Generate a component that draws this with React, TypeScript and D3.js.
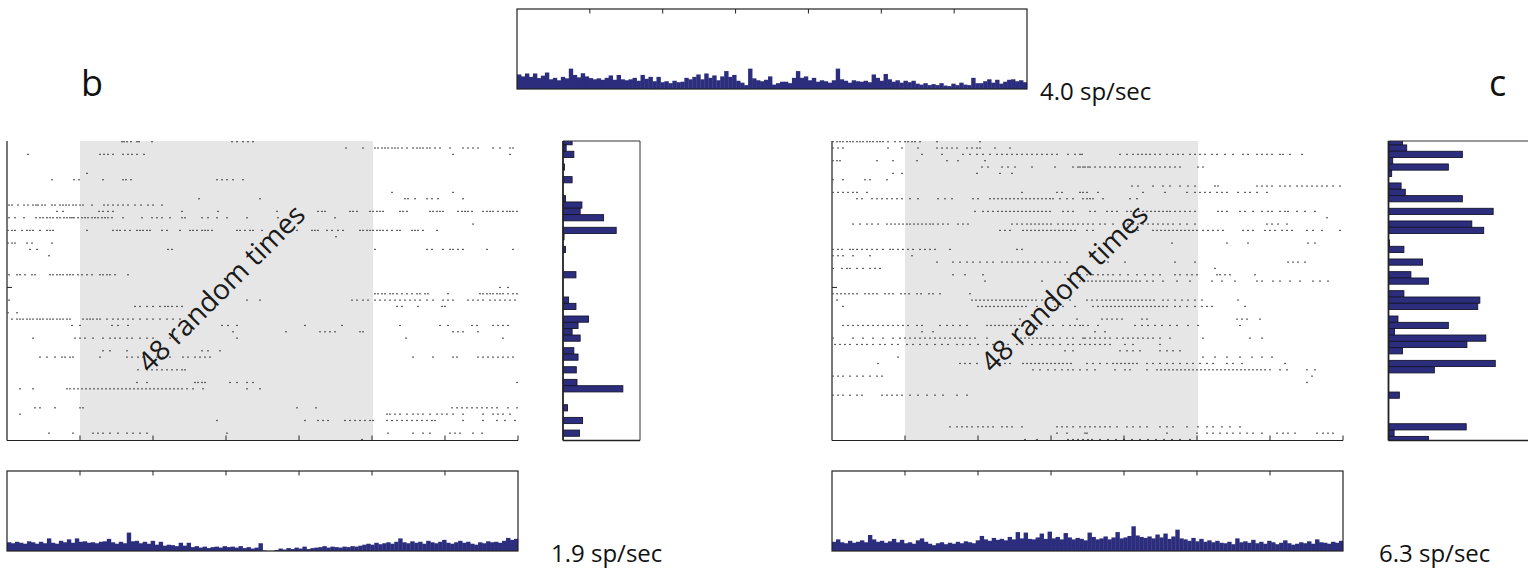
import React from "react";
import * as d3 from "d3";

// ---------- DATA ----------
// Raster spike times (time units 0..511, 7 intervals of 73) per trial row (48 trials)
const RASTER_B: number[][] = [
  [115,117,120,124,130,132,145,225,230,236,241,246],
  [339,356,368,371,375,378,381,385,388,391,395,400,406,410,413,416,420,423,428,433,443,456,461,466,471,486,493,503,506],
  [21,93,97,101,106,116,121,125,130,137,446,503],
  [],
  [],
  [80],
  [45,67,72,96,116,119,124,210,215,220,226,236],
  [],
  [385,446],
  [192,253,398,401,408,420,425,431,456],
  [2,5,11,17,21,26,29,31,35,38,45,48,53,56,59,62,66,69,73,76,85,97,101,106,111,116,121,128,134,141,146,155],
  [50,56,92,96,101,106,175,211,270,311,315,318,343,346,350,363,366,370,373,376,393,396,400,423,426,430,433,436,451,455,458,461,465,476,480,483,486,491,496,500,503,506,510],
  [2,8,17,29,33,36,40,43,46,50,53,57,60,63,65,67,71,75,78,81,85,88,91,95,98,101,105,116,135,145,150,155,163,175,178,195,201,210,220,240,271,328],
  [466],
  [1,5,8,15,20,23,26,33,40,43,46,80,106,110,113,118,123,130,133,136,140,143,155,160,173,183,186,190,195,198,201,205,230,233,238,243,246,255,290,305,308,311,320,325,331,336,353,356,360,363,366,370,373,376,380,385,390,393,405,408,411,416,430],
  [329],
  [1,5,8,20,25,45],
  [23,30,161,165,368,420,425,436,443,446,451,456,480,506],
  [42],
  [],
  [],
  [2,10,13,18,25,28,43,46,50,53,56,60,63,66,71,75,80,85,93,96,100,103,108,121],
  [],
  [493,501],
  [368,371,375,378,383,386,390,395,400,405,410,413,418,421,441,473,476,480,483,486,490,493,496,501,506,510],
  [2,240,253,345,350,356,361,368,373,378,383,388,393,398,403,408,413,420,426,436,441,446,461,466,471,476,483,488,493,498,503,508],
  [128,133,140,146,153,158,161,165,170,175,390,395,411,435,438],
  [1,10],
  [5,10,13,16,20,23,26,30,33,36,40,43,46,50,53,56,60,63,76,80,83,86,90,93,100,106,111,116,121,126,133,140,146,153,160,166,173],
  [65,73,105,111,121,215,221,230,298,335,393,433,441,465,470,486,491,496,501],
  [226,279,313,318,323,328,353,356,446,451,456,471],
  [26,68,73,78,86,96,103,108,113,120,125,133,140,146,163,170,230,399,496],
  [],
  [96,103,120,195,201,213],
  [33,40,48,55,58,63,66,93,120,125,131,136,141,150,156,163,176,181,188,193,198,203,406,426,446,450,471,476,481,486,491,496,501,506],
  [],
  [131,140,145,150,155,160,165,170,175,178],
  [],
  [130,140,188,191,195,198,223,230,240,246,510],
  [13,26,60,63,67,71,75,79,83,87,91,95,99,103,107,111,115,119,123,127,131,135,139,143,147,151,155,159,163,167,171,175,180,186,196,240,253],
  [],
  [],
  [28,33,48,73,76,290,309,445,450,455,460,465,470,475,480,485,490,501,510],
  [13,380,383,388,393,400,406,411,416,423,430,435,440,446,456,476,486,491,496,503],
  [210,298,311,316,321,338,343,348,353,358,363,366,380,385,390,395,400,405,410,415,420,425,428,456,476,490,498,508],
  [],
  [42,66,86,91,96,103,111,120,126,133,140,220,381,406,416,423,443,448,453,466,475],
  [355],
];

const RASTER_C: number[][] = [
  [1,5,8,11,15,18,21,25,28,31,35,38,41,45,48,51,56,63,68,73,76,80,83,88,105,148],
  [1,6,11,56,70,86,105,110,115,120,125,135,140,145,148,163,178],
  [90,110,131,138,145,151,158,165,170,175,180,185,190,195,200,205,210,215,220,225,236,243,248,250,288,295,301,306,310,314,318,323,328,335,341,346,351,358,363,368,373,380,385,393,401,411,416,425,430,435,440,448,451,458,470],
  [1,5,8,45,61,85,115,126,153],
  [150,156,170,176,183,200,223,241,246,248,251,253,256,258,263,268,273,278,283,288,293,298,303,308,313,318,323,328,333,338,343,348,366,371],
  [61,70,145,168,180],
  [1,11,33,38,55],
  [300,306,321,331,338,348,356,363,383,386,425,430,435,440,448,453,458,465,470,475,480,485,490,495,501,508],
  [1,6,11,16,21,25,35,190,225,230,248,251,255,266,311,333,355,363,368,373,378,385,390,395,406,413,418,425,435],
  [25,30,40,45,50,55,60,65,70,78,86,106,113,120,141,146,158,162,166,170,174,178,182,186,190,194,198,202,206,210,214,218,221,228,235,241,251,255,258,261,271,298,305],
  [],
  [143,151,156,161,166,170,174,178,182,186,190,194,198,202,206,210,214,218,231,236,241,258,263,275,280,285,295,299,303,307,311,315,319,323,327,331,335,338,343,348,353,358,363,386,390,395,408,413,421,430,436,440,448,453,456,465,473,483],
  [495],
  [21,28,35,40,46,55,59,63,67,71,75,78,82,86,90,94,98,101,106,111,116,126,131,136,180,185,190,195,199,203,207,211,215,219,226,231,236,241,246,251,256,261,268,273,281,291,296,301,306,311,316,321,326,331,336,341,348,355,363,435,440,446,455],
  [168,173,178,191,195,199,203,207,211,215,219,223,227,231,235,239,243,255,261,296,301,306,321,325,329,333,337,341,345,349,353,357,361,365,371,376,381,386,391,411,416,421,433,438,443,450,455,460,475,481,490,508],
  [],
  [340,395,416,476,483],
  [1,6,10,18,21,25,30,35,40,45,51,58,61,66,71,76,81,88,93,98,103,118,185,190],
  [1,6,11,21,38,80],
  [105,121,128,135,141,148,155,161,170,175,180,186,191,196,203,210,216,223,228,235,276,293,343,363,456,461,466,473],
  [1,10,15,18,25,31,38,43,48,383],
  [121,133,151,233,248,255,261,266,271,276,281,288,296,305,313,321,328,343,348,355,360,365,385,388,393,398,423],
  [153,210,248,252,256,260,264,268,272,276,280,284,288,292,296,300,304,308,315,321,331,345,358,380,390,403,425,430,441,448,458,468,481,488,496],
  [],
  [1,5,9,13,17,21,25,33,37,41,45,53,57,61,69,73,77,85,89,97,101,108,138],
  [5,140,144,148,152,156,160,164,168,172,176,180,184,188,192,196,200,204,210,221,238,255,260,265,270,274,278,282,286,290,294,298,302,306,310,314,318,322,331,336,343,350,356,363,370,406],
  [11,146,150,154,158,162,166,170,174,178,182,186,190,194,205,215,223,231,243,261,266,271,275,279,283,287,291,295,299,303,307,311,315,319,323,327,331,335,343,348,355,363,370,375,380,413],
  [],
  [188,245,270,275,280,285,290,310,315,405,410,415,428],
  [11,16,21,26,31,36,41,46,51,56,61,66,71,76,85,90,108,115,121,128,135,155,159,163,167,171,175,179,183,187,191,198,205,215,221,231,238,243,248,251,256,266,303,310,316,323,330,338,345,356,366,408],
  [90,101,263,273],
  [1,21,31,41,51,61,68,73,78,83,88,93,98,103,108,113,118,123,128,133,138,143,155,185,189,193,197,201,205,209,213,217,221,228,235,241,251,253,258,263,268,273,278,285,291,296,301,306,311,316,321,328,338,371,418,430],
  [3,8,13,18,25,30,35,41,48,53,60,66,75,81,88,95,103,110,116,125,131,138,146,155,161,170,176,185,191,200,208,215,221,228,236,241,248,253,258,263,268,273,278,293,301,328],
  [233,241,288,295,301,308,328,335,341,348],
  [66,371,383,395,408,420,430,440],
  [46,128,133,138,145,158,163,168,173,178,191,195,199,203,207,211,215,219,223,227,231,235,239,255,261,268,275,281,285,289,293,297,301,305,315,321,328,335,341,348,355,361,368,375,381,395,401,410,453],
  [201,208,216,223,230,236,241,248,255,263,283,293,298,315,325,329,333,337,341,345,349,353,357,361,365,369,373,377,381,385,389,393,397,401,405,409,413,417,421,425,429,433,438,448,455,475,483],
  [1,6,11,18,25,31,38,45,50,480],
  [475],
  [],
  [1,6,11,18,25,30,50,55,60,65,70,78,86,95,103,111,125,135],
  [],
  [],
  [],
  [],
  [118,125,130,135,140,146,151,156,161,170,175,180,190,225,230,235,241,248,253,258,263,268,273,278,285,295,301,308,315,328,335,341,355,366,375,381,390,398,408],
  [225,235,253,255,335,365,375,381,388,395,401,408,415,421,430,445,451,456,463,485,491,496,501],
  [193,205,236,241,246,251,256,260,268,276,284,292,300,308,316,324,332,340,348,358],
];

// Spike counts per trial (side histograms)
const COUNTS_B = [2.6,0.9,3.1,0,0.4,0,2.6,0,0,0.7,5.4,4.9,11.6,0,15.2,0.3,0,0.7,0,0,0,3.7,0,0,0,1.6,3.7,0,7.3,4.3,2.6,4.9,0,3.1,4.3,0,3.8,0,4.0,17.1,0,0,1.3,0,5.6,0,4.7,0];
const COUNTS_C = [4.0,5.2,21.1,1.2,17.1,0.9,0,3.6,4.8,21.1,0,29.9,0,23.8,27.2,0,0.3,4.4,0,9.7,0,6.4,11.4,0,4.4,26.1,25.5,0,2.7,17.1,1.7,27.8,22.4,4.0,0,30.5,13.1,0,0,0,3.1,0,0,0,0,22.2,1.6,11.4];

// PSTH rates (sp/sec), 128 bins
const PSTH_TOP = [
  6.0,5.2,6.4,5.0,6.4,4.5,5.5,6.8,
  4.0,4.6,3.6,5.0,4.4,8.4,
  5.8,4.8,6.5,5.2,4.5,4.0,
  4.4,3.8,4.6,5.6,3.8,5.8,
  4.0,3.6,4.0,4.6,3.4,5.8,
  4.2,5.0,3.2,5.0,2.8,3.2,
  2.4,3.4,2.8,3.0,4.6,4.0,
  5.0,6.0,4.0,6.4,4.6,5.6,
  3.6,5.2,7.4,5.0,5.8,3.4,
  2.6,1.6,8.4,4.4,3.6,3.2,
  3.8,5.2,1.8,2.4,3.0,3.0,
  2.4,4.6,7.4,4.6,5.2,3.6,
  4.6,3.0,3.6,3.2,2.6,3.6,
  8.4,4.0,3.4,2.6,3.6,3.2,
  3.0,3.4,2.8,6.0,4.6,3.4,
  6.2,4.0,3.0,3.6,2.6,3.4,
  2.8,3.4,2.2,1.8,2.4,1.6,
  2.0,1.6,2.4,1.4,1.2,2.2,
  1.6,2.6,1.8,1.6,4.6,2.4,
  2.4,3.2,4.0,2.6,3.8,2.2,
  3.0,3.8,4.0,3.2,3.6,2.8,
];
const PSTH_B = [
  3.6,3.2,3.8,3.4,3.0,4.0,3.6,
  3.0,3.8,3.2,5.2,
  3.4,3.0,4.2,3.6,4.8,3.4,5.2,
  3.8,4.0,3.4,3.6,3.2,3.8,4.0,5.0,
  3.6,3.0,3.8,3.2,7.6,
  4.0,4.2,3.2,3.8,3.0,4.2,2.6,3.8,
  2.2,2.6,2.4,2.0,3.4,2.2,3.4,
  1.6,2.0,1.4,1.8,1.2,1.6,1.8,1.4,2.0,1.6,1.8,1.4,2.0,1.2,1.6,1.0,1.4,3.2,
  0.2,0,0,0.4,
  1.0,0.6,1.2,0.8,1.4,1.0,1.8,0.8,1.2,1.4,
  1.6,2.0,1.4,1.8,1.6,1.4,1.8,1.6,2.0,1.8,2.2,2.6,
  3.0,2.6,3.4,2.8,3.2,3.6,3.0,3.8,5.2,
  3.6,3.2,4.0,3.4,3.8,3.0,4.2,3.6,3.2,3.8,4.6,3.4,3.0,3.6,4.2,3.4,3.8,3.0,2.6,3.6,3.2,4.0,3.6,3.8,3.4,4.2,5.4,4.6,5.0,
];
const PSTH_C = [
  3.8,4.8,3.6,3.2,4.2,3.4,3.8,4.4,3.6,6.6,4.8,
  3.8,4.2,3.4,4.0,5.0,3.6,4.6,3.2,3.6,3.0,4.4,
  5.2,3.8,3.0,2.4,3.2,3.6,2.8,3.4,3.0,3.8,3.2,4.0,3.6,3.2,4.4,
  6.2,4.8,4.2,5.4,4.6,5.0,4.4,5.8,4.8,7.8,5.2,7.6,5.0,4.8,5.6,7.2,5.0,
  8.0,5.2,5.8,4.8,7.4,5.6,4.8,5.4,5.0,4.4,7.6,5.8,4.8,5.2,6.0,4.8,5.6,7.8,5.2,
  5.6,6.2,10.2,6.4,5.8,5.4,6.0,5.2,6.8,5.6,7.2,5.0,6.0,
  8.8,5.2,4.8,4.2,5.4,4.0,5.0,3.8,4.4,3.6,4.2,3.4,3.2,3.8,2.8,
  5.2,3.6,4.0,3.4,4.6,3.2,3.8,3.0,4.2,3.6,2.8,3.4,4.4,3.2,2.6,3.0,3.6,3.2,4.0,3.0,4.8,3.6,3.4,3.0,3.8,3.4,4.2,
];

const TIME_TICKS = [73, 146, 219, 292, 365, 438];
const WINDOW = [73, 366];
const TRIAL_TICK = 23;
const RATE_LABELS = { top: "4.0 sp/sec", b: "1.9 sp/sec", c: "6.3 sp/sec" };
const PANEL_LABELS = ["b", "c"];
const WINDOW_LABEL = "48 random times";

// ---------- STYLE ----------
const NAVY = "#2c2e7d";
const FONT = "'Open Sans', 'Noto Sans', sans-serif";

const rowY = d3.scaleLinear().domain([0, 47]).range([141.7, 439.5]);
const countX = d3.scaleLinear().domain([0, 22]).range([0, 77]);

function Raster({ x0, data, labelCx }: { x0: number; data: number[][]; labelCx: number }) {
  const x = d3.scaleLinear().domain([0, 511]).range([x0, x0 + 511]);
  const top = 141, bottom = 440.5;
  return (
    <g>
      <rect x={x(WINDOW[0])} y={top} width={x(WINDOW[1]) - x(WINDOW[0])} height={bottom - top} fill="#e6e6e6" />
      {data.map((row, i) =>
        row.map((t, j) => (
          <rect key={i + "-" + j} x={x(t) - 0.8} y={rowY(i) - 0.6} width={1.6} height={1.2} fill="#3a3a3a" />
        ))
      )}
      <text
        transform={`translate(${labelCx},290) rotate(-45)`}
        textAnchor="middle"
        dominantBaseline="middle"
        fontFamily={FONT}
        fontSize={28}
        fill="#1a1a1a"
      >
        {WINDOW_LABEL}
      </text>
      <line x1={x(0)} x2={x(0)} y1={top} y2={bottom} stroke="#555" strokeWidth={1.6} />
      <line x1={x(0)} x2={x(511)} y1={bottom} y2={bottom} stroke="#222" strokeWidth={1.2} />
      {TIME_TICKS.concat([511]).map((t) => (
        <line key={t} x1={x(t)} x2={x(t)} y1={bottom} y2={bottom - 5} stroke="#222" strokeWidth={1} />
      ))}
      <line x1={x(0)} x2={x(0) + 5} y1={rowY(TRIAL_TICK)} y2={rowY(TRIAL_TICK)} stroke="#222" strokeWidth={1} />
    </g>
  );
}

function Psth({ x0, y0, width, data, id }: { x0: number; y0: number; width: number; data: number[]; id: string }) {
  const h = 80;
  const x = d3.scaleLinear().domain([0, data.length]).range([x0, x0 + width]);
  const y = d3.scaleLinear().domain([0, 33]).range([y0 + h, y0]);
  const t = d3.scaleLinear().domain([0, 511]).range([x0, x0 + width]);
  return (
    <g>
      <defs>
        <clipPath id={id}>
          <rect x={x0} y={y0} width={width} height={h} />
        </clipPath>
      </defs>
      <g clipPath={`url(#${id})`}>
        {data.map((v, i) => (
          <rect key={i} x={x(i)} y={y(v)} width={x(i + 1) - x(i) + 0.4} height={y(0) - y(v) + 1} fill={NAVY} />
        ))}
      </g>
      <rect x={x0} y={y0} width={width} height={h} fill="none" stroke="#222" strokeWidth={1.2} />
      {TIME_TICKS.map((tt) => (
        <line key={tt} x1={t(tt)} x2={t(tt)} y1={y0} y2={y0 + 4.5} stroke="#222" strokeWidth={1} />
      ))}
    </g>
  );
}

function SideHist({ x0, width, data, id }: { x0: number; width: number; data: number[]; id: string }) {
  const top = 141, bottom = 440.5;
  return (
    <g>
      <defs>
        <clipPath id={id}>
          <rect x={x0} y={top} width={width} height={bottom - top} />
        </clipPath>
      </defs>
      <g clipPath={`url(#${id})`}>
        {data.map((v, i) =>
          v > 0 ? (
            <rect key={i} x={x0} y={rowY(i) - 3.1} width={countX(v)} height={6.2} fill={NAVY} stroke="#15152e" strokeWidth={0.9} />
          ) : null
        )}
      </g>
      <line x1={x0} x2={x0 + width} y1={top} y2={top} stroke="#333" strokeWidth={1} />
      <line x1={x0 + width} x2={x0 + width} y1={top} y2={bottom} stroke="#333" strokeWidth={1} />
      <line x1={x0} x2={x0 + width} y1={bottom} y2={bottom} stroke="#222" strokeWidth={1.3} />
      <line x1={x0} x2={x0} y1={top} y2={bottom} stroke="#222" strokeWidth={1.8} />
    </g>
  );
}

export default function App() {
  return (
    <svg
      width={1528}
      height={569}
      viewBox="0 0 1528 569"
      style={{ position: "fixed", left: 0, top: 0, background: "#fff" }}
    >
      <rect x={0} y={0} width={1528} height={569} fill="#fff" />
      <Psth x0={517} y0={9} width={510} data={PSTH_TOP} id="cpTop" />
      <text x={1040} y={100} fontFamily={FONT} fontSize={24} fill="#111">{RATE_LABELS.top}</text>
      <text x={81} y={96} fontFamily={FONT} fontSize={36} fill="#111">{PANEL_LABELS[0]}</text>
      <text x={1489} y={96} fontFamily={FONT} fontSize={36} fill="#111">{PANEL_LABELS[1]}</text>

      <Raster x0={7} data={RASTER_B} labelCx={223} />
      <SideHist x0={563} width={77} data={COUNTS_B} id="cpSideB" />
      <Psth x0={7} y0={471} width={511} data={PSTH_B} id="cpB" />
      <text x={551} y={562} fontFamily={FONT} fontSize={24} fill="#111">{RATE_LABELS.b}</text>

      <Raster x0={832} data={RASTER_C} labelCx={1066} />
      <SideHist x0={1388.5} width={160} data={COUNTS_C} id="cpSideC" />
      <Psth x0={832} y0={471} width={511} data={PSTH_C} id="cpC" />
      <text x={1379} y={562} fontFamily={FONT} fontSize={24} fill="#111">{RATE_LABELS.c}</text>
    </svg>
  );
}
